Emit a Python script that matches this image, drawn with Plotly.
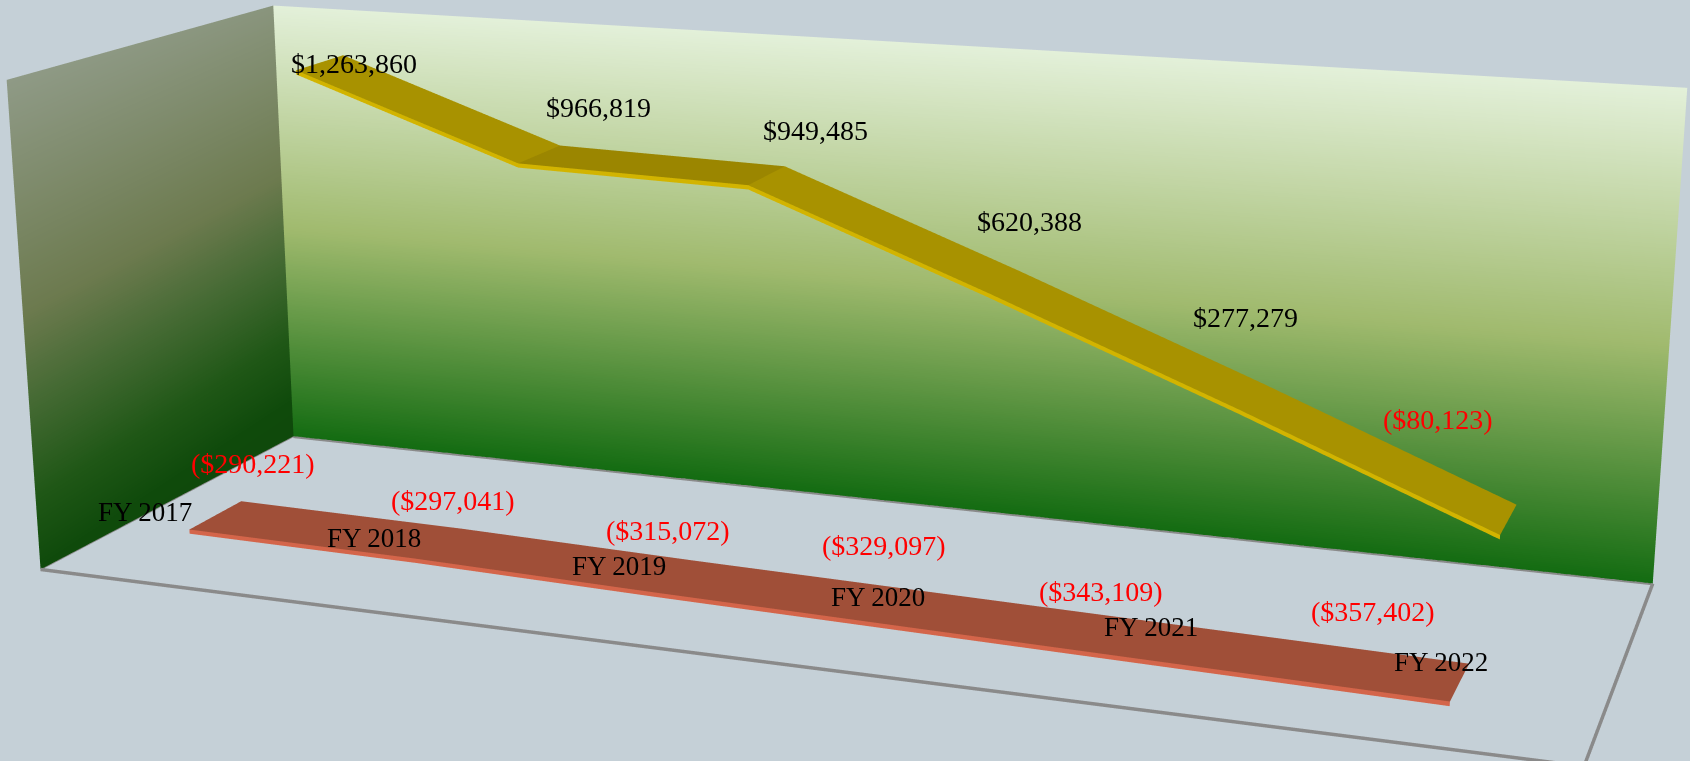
import plotly.graph_objects as go

categories = ["FY 2017", "FY 2018", "FY 2019", "FY 2020", "FY 2021", "FY 2022"]
upper_values = [1263860, 966819, 949485, 620388, 277279, -80123]
lower_values = [-290221, -297041, -315072, -329097, -343109, -357402]
upper_labels = ["$1,263,860", "$966,819", "$949,485", "$620,388", "$277,279", "($80,123)"]
lower_labels = ["($290,221)", "($297,041)", "($315,072)", "($329,097)", "($343,109)", "($357,402)"]

Z_MIN, Z_MAX = -410000, 1396000
X_MIN, X_MAX = -0.5, 5.5
Y_MIN, Y_MAX = 0.0, 2.0
PAD = 0.003
BG = "#C5D0D7"
GRID = "#8A8A8A"

upper_shift = [(34, -1), (59, 47), (49, 45), (25, 61), (-7, 79), (-70, 100)]
lower_shift = [(37, 52), (14, 43), (-6, 46), (-37, 64), (-82, 53), (-87, 71)]
cat_shift = [(-71, 3), (-65, 5), (-55, 10), (-43, 13), (-32, 18), (-19, 20)]

fig = go.Figure()
NOLIGHT = dict(ambient=1, diffuse=0, specular=0, roughness=1, fresnel=0)

back_scale = [[0, "#146C12"], [0.49, "#A0BA6E"], [1, "#E3F0D9"]]
left_scale = [[0, "#0F480B"], [0.1, "#0F4A0B"], [0.235, "#1F5716"], [0.424, "#476B35"],
              [0.577, "#6C7A4E"], [1, "#8F9A86"]]

fig.add_trace(go.Mesh3d(
    x=[X_MIN, X_MAX, X_MAX, X_MIN], y=[Y_MAX] * 4, z=[Z_MIN, Z_MIN, Z_MAX, Z_MAX],
    i=[0, 0], j=[1, 2], k=[2, 3], intensity=[0, 0, 1, 1], colorscale=back_scale,
    cmin=0, cmax=1, showscale=False, lighting=NOLIGHT, flatshading=False, hoverinfo="skip"))
fig.add_trace(go.Mesh3d(
    x=[X_MIN] * 4, y=[Y_MIN, Y_MAX, Y_MAX, Y_MIN], z=[Z_MIN, Z_MIN, Z_MAX, Z_MAX],
    i=[0, 0], j=[1, 2], k=[2, 3], intensity=[0.1, 0.03, 0.93, 1], colorscale=left_scale,
    cmin=0, cmax=1, showscale=False, lighting=NOLIGHT, flatshading=False, hoverinfo="skip"))

def ribbon(values, depth, top, edge, dark_segments=()):
    half, thick = 0.2, 16000
    xs, ys, zs, ii, jj, kk, fc = [], [], [], [], [], [], []
    for n, v in enumerate(values):
        xs += [n, n, n]
        ys += [depth - half, depth + half, depth - half]
        zs += [v, v, v - thick]
    for n in range(len(values) - 1):
        a = 3 * n
        b = a + 3
        col = top[1] if n in dark_segments else top[0]
        ii += [a, a]; jj += [b, b + 1]; kk += [b + 1, a + 1]; fc += [col, col]
        ii += [a + 2, a + 2]; jj += [b + 2, b]; kk += [b, a]; fc += [edge, edge]
    return go.Mesh3d(x=xs, y=ys, z=zs, i=ii, j=jj, k=kk, facecolor=fc,
                     lighting=NOLIGHT, flatshading=True, hoverinfo="skip")

idx = list(range(len(categories)))
fig.add_trace(ribbon(upper_values, 1.5, ("#A89200", "#9B8600"), "#D2B400", (1,)))
fig.add_trace(ribbon(lower_values, 0.5, ("#A04F38", "#A04F38"), "#D4654A"))

for xs, ys, w in [([X_MIN, X_MAX], [Y_MAX, Y_MAX], 7), ([X_MIN, X_MAX], [Y_MIN, Y_MIN], 7),
                  ([X_MAX, X_MAX], [Y_MIN, Y_MAX], 7), ([X_MIN, X_MIN], [Y_MIN, Y_MAX], 3)]:
    fig.add_trace(go.Scatter3d(x=xs, y=ys, z=[Z_MIN, Z_MIN], mode="lines",
                               line=dict(color=GRID, width=w), hoverinfo="skip", showlegend=False))

ann = []
for n in idx:
    ann.append(dict(x=n, y=1.5, z=upper_values[n], text=upper_labels[n], showarrow=False,
                    xshift=upper_shift[n][0], yshift=upper_shift[n][1],
                    font=dict(family="Liberation Serif", size=28,
                              color="#FF0000" if upper_values[n] < 0 else "#000000")))
    ann.append(dict(x=n, y=0.5, z=lower_values[n], text=lower_labels[n], showarrow=False,
                    xshift=lower_shift[n][0], yshift=lower_shift[n][1],
                    font=dict(family="Liberation Serif", size=28, color="#FF0000")))
    ann.append(dict(x=n, y=0.5, z=lower_values[n], text=categories[n], showarrow=False,
                    xshift=cat_shift[n][0], yshift=cat_shift[n][1],
                    font=dict(family="Liberation Serif", size=27, color="#000000")))

hidden = dict(visible=False, showgrid=False, zeroline=False, showline=False,
              showticklabels=False, showbackground=False, title="")
def padded(lo, hi):
    return [lo - PAD * (hi - lo), hi + PAD * (hi - lo)]
fig.update_layout(
    width=1690, height=761, margin=dict(l=0, r=0, t=0, b=0), autosize=False,
    paper_bgcolor=BG, showlegend=False,
    scene=dict(
        domain=dict(x=[0, 1], y=[0, 1]), bgcolor=BG,
        xaxis=dict(range=padded(X_MIN, X_MAX), **hidden),
        yaxis=dict(range=padded(Y_MIN, Y_MAX), **hidden),
        zaxis=dict(range=padded(Z_MIN, Z_MAX), **hidden),
        aspectmode="manual", aspectratio=dict(x=2.012, y=0.672, z=0.655),
        camera=dict(eye=dict(x=1.368, y=-3.738, z=1.022),
                    center=dict(x=0.0096, y=-0.0123, z=-0.056),
                    up=dict(x=0, y=0, z=1)),
        annotations=ann,
    ),
)
post = """
var gd=document.getElementById('{plot_id}');
document.body.style.margin='0';document.body.style.background='#C5D0D7';
function lens(){try{var g=gd._fullLayout.scene._scene.glplot;g.fovy=0.2361;g.redraw();}catch(e){}}
lens();setTimeout(lens,100);setTimeout(lens,500);setTimeout(lens,1000);
"""
fig.write_html("out.html", post_script=post, config=dict(displayModeBar=False))
